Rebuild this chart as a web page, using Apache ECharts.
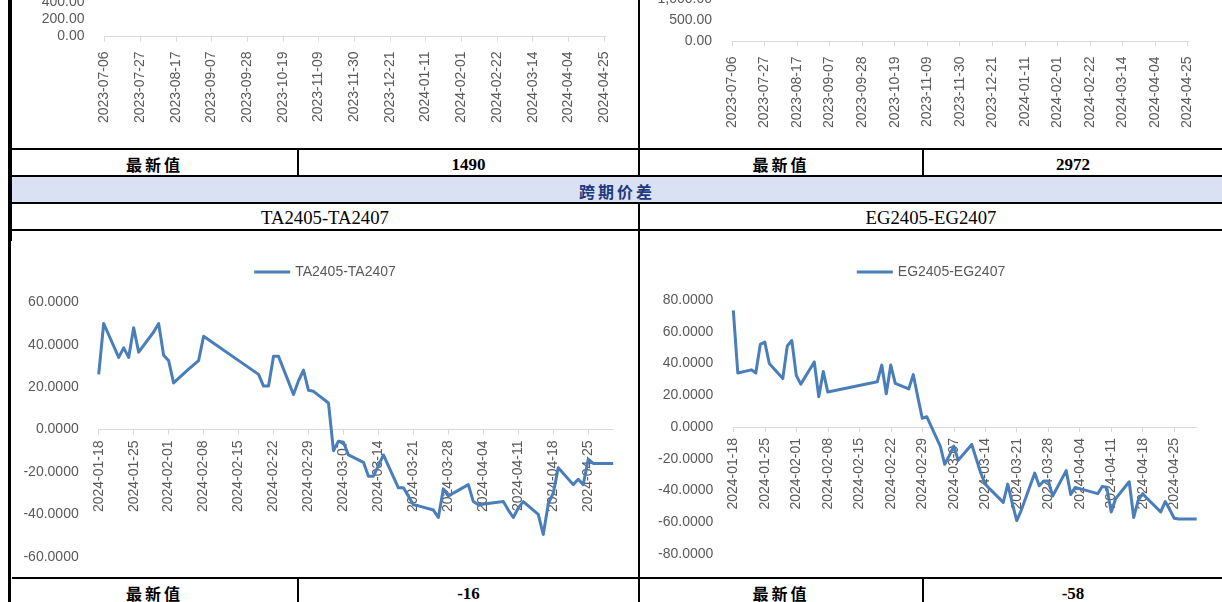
<!DOCTYPE html>
<html>
<head>
<meta charset="utf-8">
<script src="https://cdn.jsdelivr.net/npm/echarts@6/dist/echarts.min.js"></script>
<style>
html,body{margin:0;padding:0;background:#fff;}
#page{position:relative;width:1222px;height:602px;overflow:hidden;background:#fff;}
.ln{position:absolute;background:#000;z-index:5;}
.cell{position:absolute;display:flex;align-items:center;justify-content:center;color:#000;white-space:nowrap;z-index:4;box-sizing:border-box;}
.cn{font-family:"Noto Sans CJK SC";font-weight:700;font-size:16px;letter-spacing:3px;padding-top:2px;}
.num{font-family:"Liberation Serif";font-weight:700;font-size:17px;padding-top:4px;}
.ttl{font-family:"Liberation Serif";font-weight:400;font-size:18.7px;padding-top:3px;}
.band{position:absolute;background:#D9E1F2;z-index:3;}
.chart{position:absolute;z-index:1;}
</style>
</head>
<body>
<div id="page">
  <div class="chart" id="topLeft" style="left:12px;top:-200px;width:626px;height:348px;"></div>
  <div class="chart" id="topRight" style="left:640px;top:-200px;width:582px;height:348px;"></div>
  <div class="chart" id="taChart" style="left:12px;top:231px;width:626px;height:346px;"></div>
  <div class="chart" id="egChart" style="left:640px;top:231px;width:582px;height:346px;"></div>

  <div class="band" style="left:12px;top:177px;width:1210px;height:25px;"></div>

  <div class="ln" style="left:8px;top:0;width:4px;height:241px;"></div>
  <div class="ln" style="left:8px;top:241px;width:3px;height:361px;"></div>
  <div class="ln" style="left:638px;top:0;width:2px;height:175px;"></div>
  <div class="ln" style="left:638px;top:204px;width:2px;height:398px;"></div>
  <div class="ln" style="left:12px;top:148px;width:1210px;height:2px;"></div>
  <div class="ln" style="left:12px;top:175px;width:1210px;height:2px;"></div>
  <div class="ln" style="left:12px;top:202px;width:1210px;height:2px;"></div>
  <div class="ln" style="left:12px;top:229px;width:1210px;height:2px;"></div>
  <div class="ln" style="left:12px;top:577px;width:1210px;height:2px;"></div>
  <div class="ln" style="left:297px;top:150px;width:2px;height:25px;"></div>
  <div class="ln" style="left:922px;top:150px;width:2px;height:25px;"></div>
  <div class="ln" style="left:297px;top:579px;width:2px;height:23px;"></div>
  <div class="ln" style="left:922px;top:579px;width:2px;height:23px;"></div>

  <div id="cells"></div>
</div>
<script>
// ---- data ----
const tradeDates = [
  '2024-01-18','2024-01-19','2024-01-22','2024-01-23','2024-01-24','2024-01-25','2024-01-26','2024-01-29','2024-01-30','2024-01-31',
  '2024-02-01','2024-02-02','2024-02-05','2024-02-06','2024-02-07','2024-02-08','2024-02-19','2024-02-20','2024-02-21','2024-02-22','2024-02-23','2024-02-26','2024-02-27','2024-02-28','2024-02-29',
  '2024-03-01','2024-03-04','2024-03-05','2024-03-06','2024-03-07','2024-03-08','2024-03-11','2024-03-12','2024-03-13','2024-03-14','2024-03-15','2024-03-18','2024-03-19','2024-03-20','2024-03-21','2024-03-22','2024-03-25','2024-03-26','2024-03-27','2024-03-28','2024-03-29',
  '2024-04-01','2024-04-02','2024-04-03','2024-04-08','2024-04-09','2024-04-10','2024-04-11','2024-04-12','2024-04-15','2024-04-16','2024-04-17','2024-04-18','2024-04-19','2024-04-22','2024-04-23','2024-04-24','2024-04-25','2024-04-26','2024-04-29','2024-04-30'
];
const taValues = [
  26, 50, 34, 38.5, 34, 48, 36.5, 46, 50, 35,
  32.5, 22, 28.5, 30.5, 32.5, 44, 26, 20.5, 20.5, 34.5, 34.5, 16.5, 23, 28, 18.5,
  18, 12.5, -10, -5.5, -6, -12, -15.5, -22, -22, -17, -12, -27.5, -27.5, -31.5, -35.5, -36, -38, -41.5, -28, -31.5, -30,
  -26, -34, -35.5, -34, -38, -41.5, -37, -34, -40, -49.5, -35, -30, -18, -26, -23.5, -26, -14, -16, -16, -16
];
const egValues = [
  73.5, 34, 36, 34, 52, 53.5, 40, 30.5, 51, 54.5,
  32.5, 27, 41, 19, 35, 22, 28.5, 39, 21, 39, 27.5, 24, 33, 19, 5.5,
  6.5, -12, -23.5, -18, -12, -21, -11, -20, -29, -36, -39, -47.5, -36, -48, -59, -52.5, -29, -37, -34, -34, -43.5,
  -27.5, -42.5, -38, -42, -37.5, -38, -53.5, -45, -34.5, -57, -46, -42, -45, -53.5, -47, -52, -57.5, -58, -58, -58
];
const spreadTicks = ['2024-01-18','2024-01-25','2024-02-01','2024-02-08','2024-02-15','2024-02-22','2024-02-29','2024-03-07','2024-03-14','2024-03-21','2024-03-28','2024-04-04','2024-04-11','2024-04-18','2024-04-25'];
const spreadEnd = '2024-04-30';
const topTicks = ['2023-07-06','2023-07-27','2023-08-17','2023-09-07','2023-09-28','2023-10-19','2023-11-09','2023-11-30','2023-12-21','2024-01-11','2024-02-01','2024-02-22','2024-03-14','2024-04-04','2024-04-25'];
const topEnd = '2024-04-26';
const seriesNames = ['TA2405-TA2407','EG2405-EG2407'];
const latestLabel = '最新值';
const latestTop = ['1490','2972'];
const latestSpread = ['-16','-58'];
const sectionTitle = '跨期价差';

// ---- table text ----
const cells = [
  {x:12,w:285,y:150,t:latestLabel,c:'cn'},
  {x:299,w:339,y:150,t:latestTop[0],c:'num'},
  {x:640,w:282,y:150,t:latestLabel,c:'cn'},
  {x:924,w:298,y:150,t:latestTop[1],c:'num'},
  {x:12,w:1210,y:177,t:sectionTitle,c:'cn',color:'#1F3A80'},
  {x:12,w:626,y:204,t:seriesNames[0],c:'ttl'},
  {x:640,w:582,y:204,t:seriesNames[1],c:'ttl'},
  {x:12,w:285,y:579,t:latestLabel,c:'cn'},
  {x:299,w:339,y:579,t:latestSpread[0],c:'num'},
  {x:640,w:282,y:579,t:latestLabel,c:'cn'},
  {x:924,w:298,y:579,t:latestSpread[1],c:'num'}
];
const holder = document.getElementById('cells');
cells.forEach(function(c){
  const d = document.createElement('div');
  d.className = 'cell ' + c.c;
  d.style.left = c.x + 'px'; d.style.top = c.y + 'px';
  d.style.width = c.w + 'px'; d.style.height = '25px';
  if (c.color) d.style.color = c.color;
  d.textContent = c.t;
  holder.appendChild(d);
});

// ---- helpers ----
const DAY = 86400000;
function dayOf(base, d){ return Math.round((Date.parse(d) - Date.parse(base)) / DAY); }
function dateOf(base, n){ return new Date(Date.parse(base) + n * DAY).toISOString().slice(0, 10); }
const FONT = 'Liberation Sans';
const GRAY = '#595959';
const LINE = '#4A7EBB';

function xAxisFor(ticks, endDate, step, offset, labelMargin){
  const base = ticks[0];
  const vals = ticks.map(function(t){ return dayOf(base, t); });
  return {
    type:'value', min:0, max:dayOf(base, endDate), interval:step,
    position:'bottom', offset:offset || 0,
    axisLine:{show:true, onZero:false, lineStyle:{color:'#D9D9D9', width:1}},
    axisTick:{show:true, length:5, customValues:vals, lineStyle:{color:'#D9D9D9'}},
    axisLabel:{rotate:90, margin:labelMargin, color:GRAY, fontSize:14, fontFamily:FONT,
      customValues:vals, formatter:function(v){ return dateOf(base, v); }},
    splitLine:{show:false}
  };
}
function yAxisFor(min, max, step, fmt){
  return {
    type:'value', min:min, max:max, interval:step,
    axisLine:{show:false}, axisTick:{show:false}, splitLine:{show:false},
    axisLabel:{margin:20, color:GRAY, fontSize:14, fontFamily:FONT, formatter:fmt}
  };
}
function fmtThousands(v){ return v.toLocaleString('en-US',{minimumFractionDigits:2, maximumFractionDigits:2}); }
function fmt4(v){ return v.toFixed(4); }

// ---- top charts (only bottom part visible) ----
const topLeft = echarts.init(document.getElementById('topLeft'));
topLeft.setOption({
  animation:false,
  grid:{left:92.5, top:32.5, width:501.2, height:204, outerBoundsMode:'none', containLabel:false},
  xAxis:xAxisFor(topTicks, topEnd, 21, 0, 15),
  yAxis:yAxisFor(0, 2400, 200, fmtThousands),
  series:[]
});
const topRight = echarts.init(document.getElementById('topRight'));
topRight.setOption({
  animation:false,
  grid:{left:92, top:73.5, width:457, height:168, outerBoundsMode:'none', containLabel:false},
  xAxis:xAxisFor(topTicks, topEnd, 21, 0, 15),
  yAxis:yAxisFor(0, 4000, 500, fmtThousands),
  series:[]
});

// ---- spread charts ----
function spreadOption(name, values, gridPos, yMin, yMax){
  const base = spreadTicks[0];
  const zeroOffset = -gridPos.height * (0 - yMin) / (yMax - yMin);
  return {
    animation:false,
    legend:{
      data:[name], top:29, left:'center', icon:'rect', itemWidth:36, itemHeight:3,
      textStyle:{color:GRAY, fontSize:14, fontFamily:FONT}
    },
    grid:Object.assign({outerBoundsMode:'none', containLabel:false}, gridPos),
    xAxis:xAxisFor(spreadTicks, spreadEnd, 7, zeroOffset, 11),
    yAxis:yAxisFor(yMin, yMax, 20, fmt4),
    series:[{
      name:name, type:'line', symbol:'none', showSymbol:false,
      lineStyle:{width:3, color:LINE, join:'round'}, itemStyle:{color:LINE},
      data:tradeDates.map(function(d, i){ return [dayOf(base, d), values[i]]; })
    }]
  };
}
const ta = echarts.init(document.getElementById('taChart'));
ta.setOption(spreadOption(seriesNames[0], taValues, {left:86.7, top:71.3, width:514.5, height:254.4}, -60, 60));
const eg = echarts.init(document.getElementById('egChart'));
eg.setOption(spreadOption(seriesNames[1], egValues, {left:93.3, top:69, width:463.4, height:254}, -80, 80));
</script>
</body>
</html>
